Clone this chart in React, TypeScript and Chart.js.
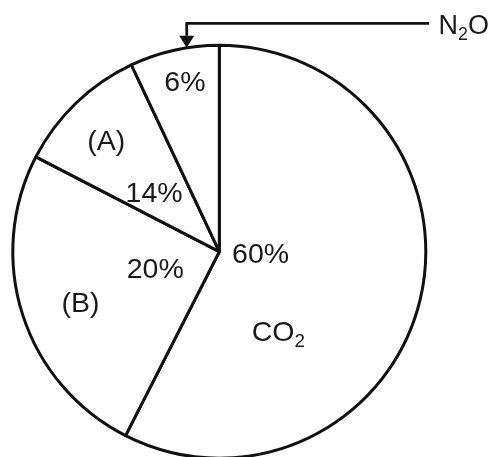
import React, { useEffect, useRef } from "react";
import { Chart, registerables } from "chart.js";

Chart.register(...registerables);

// ---- data ----
const categories = ["CO₂", "(B)", "(A)", "N₂O"];
const sliceValues = [57.5, 25.1, 10.4, 7.0]; // drawn angular shares
const percentLabels = ["60%", "20%", "14%", "6%"];
const nameLabels = ["CO₂", "(B)", "(A)", "N₂O"];

// ---- label placement (fraction along slice angle, fraction of radius) ----
const percentPos = [
  { f: 0.44, r: 0.2 },
  { f: 0.538, r: 0.32 },
  { f: 0.41, r: 0.43 },
  { f: 0.55, r: 0.846 },
];
const namePos: ({ f: number; r: number } | null)[] = [
  { f: 0.692, r: 0.477 },
  { f: 0.476, r: 0.715 },
  { f: 0.461, r: 0.769 },
  null,
];
const CALLOUT_INDEX = 3;
const CALLOUT_FRACTION = 0.64;
const CALLOUT_Y = 23.3;
const CALLOUT_END_X = 429;
const CALLOUT_TEXT_X = 438.5;

const FONT = '"Liberation Sans", Arial, Helvetica, sans-serif';
const TEXT_COLOR = "#1a1818";

type Run = { text: string; sub: boolean };
function splitRuns(s: string): Run[] {
  const runs: Run[] = [];
  for (const ch of s) {
    const sub = ch === "₂";
    const t = sub ? "2" : ch;
    const last = runs[runs.length - 1];
    if (last && last.sub === sub) last.text += t;
    else runs.push({ text: t, sub });
  }
  return runs;
}

function drawRich(
  ctx: CanvasRenderingContext2D,
  s: string,
  x: number,
  capCenterY: number,
  size: number,
  align: "center" | "left",
  subRatio = 0.66
) {
  const runs = splitRuns(s);
  const subSize = size * subRatio;
  const widthOf = (r: Run) => {
    ctx.font = `${r.sub ? subSize : size}px ${FONT}`;
    return ctx.measureText(r.text).width;
  };
  const total = runs.reduce((a, r) => a + widthOf(r), 0);
  let cx = align === "center" ? x - total / 2 : x;
  const baseline = capCenterY + size * 0.358;
  ctx.textAlign = "left";
  ctx.textBaseline = "alphabetic";
  ctx.fillStyle = TEXT_COLOR;
  for (const r of runs) {
    ctx.font = `${r.sub ? subSize : size}px ${FONT}`;
    ctx.fillText(r.text, cx, r.sub ? baseline + size * 0.22 : baseline);
    cx += ctx.measureText(r.text).width;
  }
}

const labelPlugin = {
  id: "pieLabels",
  afterDraw(chart: any) {
    const ctx: CanvasRenderingContext2D = chart.ctx;
    const meta = chart.getDatasetMeta(0);
    ctx.save();
    const pt = (arc: any, f: number, r: number) => {
      const p = arc.getProps(["x", "y", "startAngle", "endAngle", "outerRadius"], true);
      const a = p.startAngle + f * (p.endAngle - p.startAngle);
      return { x: p.x + Math.cos(a) * r * p.outerRadius, y: p.y + Math.sin(a) * r * p.outerRadius };
    };
    meta.data.forEach((arc: any, i: number) => {
      const pp = percentPos[i];
      const q = pt(arc, pp.f, pp.r);
      drawRich(ctx, percentLabels[i], q.x, q.y, 28.5, "center");
      const np = namePos[i];
      if (np) {
        const n = pt(arc, np.f, np.r);
        drawRich(ctx, nameLabels[i], n.x, n.y, 28.5, "center");
      }
    });
    // callout for the small slice
    const arc = meta.data[CALLOUT_INDEX];
    const tip = pt(arc, CALLOUT_FRACTION, 1);
    const headH = 12;
    const headW = 15;
    ctx.strokeStyle = "#111";
    ctx.lineWidth = 2.8;
    ctx.beginPath();
    ctx.moveTo(CALLOUT_END_X, CALLOUT_Y);
    ctx.lineTo(tip.x, CALLOUT_Y);
    ctx.lineTo(tip.x, tip.y - headH);
    ctx.stroke();
    ctx.fillStyle = "#111";
    ctx.beginPath();
    ctx.moveTo(tip.x - headW / 2, tip.y - headH);
    ctx.lineTo(tip.x + headW / 2, tip.y - headH);
    ctx.lineTo(tip.x, tip.y);
    ctx.closePath();
    ctx.fill();
    drawRich(ctx, nameLabels[CALLOUT_INDEX], CALLOUT_TEXT_X, 24.2, 27, "left", 0.66);
    ctx.restore();
  },
};

export default function App() {
  const ref = useRef<HTMLCanvasElement | null>(null);
  useEffect(() => {
    if (!ref.current) return;
    const chart = new Chart(ref.current, {
      type: "pie",
      data: {
        labels: categories,
        datasets: [
          {
            data: sliceValues,
            backgroundColor: "#ffffff",
            borderColor: "#111111",
            borderWidth: 3,
            radius: 206.5,
            clip: false,
          } as any,
        ],
      },
      options: {
        responsive: false,
        animation: false,
        layout: { padding: { top: 46.4, left: 0, right: 53.4, bottom: 0 } },
        plugins: {
          legend: { display: false },
          tooltip: { enabled: false },
        },
      },
      plugins: [labelPlugin],
    });
    return () => chart.destroy();
  }, []);
  return (
    <div style={{ position: "absolute", left: 0, top: 0, width: 492, height: 457, background: "#fff" }}>
      <canvas ref={ref} width={492} height={457} style={{ display: "block", width: 492, height: 457 }} />
    </div>
  );
}
